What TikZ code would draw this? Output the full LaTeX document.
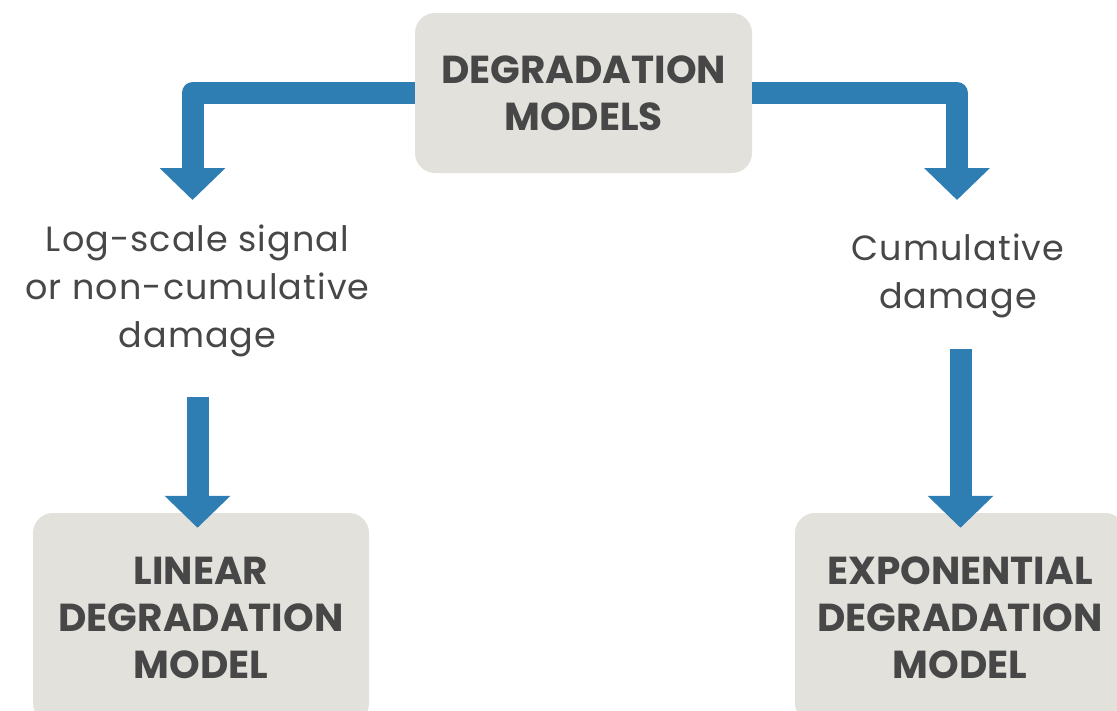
\documentclass[tikz,border=0pt]{standalone}
\usepackage{fontspec}
\setmainfont{Poppins}
\newfontfamily\condfont[LetterSpace=3]{Poppins}
\usepackage{xcolor}
\usetikzlibrary{positioning,arrows.meta,calc}
\definecolor{boxgray}{HTML}{E2E1DC}
\definecolor{textgray}{HTML}{474747}
\definecolor{flowblue}{HTML}{2F7EB3}
\begin{document}
\begin{tikzpicture}[x=1pt, y=-1pt,
  model/.style={fill=boxgray, rounded corners=20pt, text=textgray, align=center, inner sep=0pt,
               font=\bfseries\fontsize{39}{47}\selectfont},
  cond/.style={text=textgray, align=center, inner sep=0pt, font=\condfont\fontsize{35}{48}\selectfont},
  flow/.style={draw=flowblue, line width=22pt, line join=round, -{Triangle[width=64pt,length=32pt]}}]
\useasboundingbox (0,0) rectangle (1117,710);
\clip (0,0) rectangle (1117,710);
\node[model, minimum width=337pt, minimum height=160pt] (deg) at (583.5,93) {DEGRADATION\\MODELS};
\node[model, minimum width=336pt, minimum height=210pt] (linear) at (201,618) {LINEAR\\DEGRADATION\\MODEL};
\node[model, minimum width=330pt, minimum height=210pt] (expo) at (960,618) {EXPONENTIAL\\DEGRADATION\\MODEL};
\node[cond] (log) at (197.5,291) {Log-scale signal\\or non-cumulative\\damage};
\node[cond] (cum) at (958,276) {Cumulative\\damage};
\coordinate (lhead) at (192.5,200);
\coordinate (rhead) at (957,200);
\draw[flow] (deg.west) -| (lhead);
\draw[flow] (deg.east) -| (rhead);
\draw[flow] ($(log.center)+(0,106)$) -- ($(log.center |- linear.north)+(0,15)$);
\draw[flow] ($(cum.center)+(2.5,73)$) -- ($(cum.center |- expo.north)+(2.5,15)$);
\end{tikzpicture}
\end{document}
